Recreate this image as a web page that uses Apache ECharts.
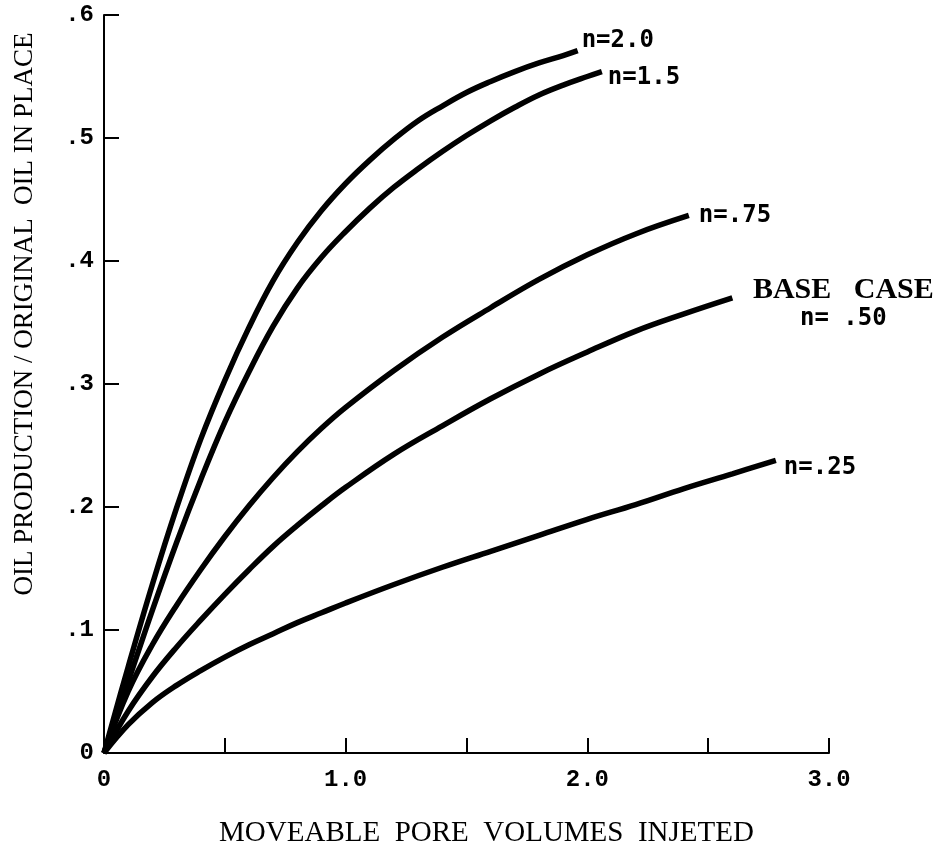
<!DOCTYPE html>
<html>
<head>
<meta charset="utf-8">
<title>Oil production vs pore volumes injected</title>
<script src="https://cdn.jsdelivr.net/npm/echarts@6/dist/echarts.min.js"></script>
<style>
  html, body { margin: 0; padding: 0; background: #fff; }
  #chart { width: 949px; height: 853px; }
</style>
</head>
<body>
<div id="chart"></div>
<script>
// [pore volumes injected, oil production / original oil in place]
const curveN20 = [[0, 0], [0.1, 0.07], [0.2, 0.137], [0.3, 0.199], [0.4, 0.255], [0.5, 0.303], [0.6, 0.346], [0.7, 0.384], [0.8, 0.415], [0.9, 0.441], [1.0, 0.463], [1.1, 0.482], [1.2, 0.499], [1.3, 0.514], [1.4, 0.526], [1.5, 0.537], [1.6, 0.546], [1.7, 0.554], [1.8, 0.561], [1.9, 0.567], [1.96, 0.571]]
const curveN15 = [[0, 0], [0.1, 0.058], [0.2, 0.116], [0.3, 0.171], [0.4, 0.222], [0.5, 0.269], [0.6, 0.31], [0.7, 0.347], [0.8, 0.378], [0.9, 0.403], [1.0, 0.424], [1.1, 0.443], [1.2, 0.46], [1.3, 0.475], [1.4, 0.489], [1.5, 0.502], [1.6, 0.514], [1.7, 0.525], [1.8, 0.535], [1.9, 0.543], [2.0, 0.55], [2.06, 0.554]]
const curveN075 = [[0, 0], [0.1, 0.05], [0.2, 0.088], [0.3, 0.12], [0.4, 0.149], [0.5, 0.176], [0.6, 0.201], [0.7, 0.224], [0.8, 0.245], [0.9, 0.264], [1.0, 0.281], [1.2, 0.311], [1.4, 0.338], [1.6, 0.362], [1.8, 0.385], [2.0, 0.405], [2.2, 0.422], [2.42, 0.437]]
const curveN050 = [[0, 0], [0.1, 0.034], [0.2, 0.062], [0.3, 0.086], [0.4, 0.108], [0.5, 0.129], [0.6, 0.149], [0.7, 0.168], [0.8, 0.185], [0.9, 0.201], [1.0, 0.216], [1.2, 0.243], [1.4, 0.266], [1.6, 0.288], [1.8, 0.308], [2.0, 0.326], [2.2, 0.343], [2.4, 0.357], [2.6, 0.37]]
const curveN025 = [[0, 0], [0.1, 0.023], [0.2, 0.041], [0.3, 0.055], [0.4, 0.067], [0.5, 0.078], [0.6, 0.088], [0.7, 0.097], [0.8, 0.106], [0.9, 0.114], [1.0, 0.122], [1.2, 0.137], [1.4, 0.151], [1.6, 0.164], [1.8, 0.177], [2.0, 0.19], [2.2, 0.202], [2.4, 0.215], [2.6, 0.227], [2.78, 0.238]]

const curveNames = ['n=2.0', 'n=1.5', 'n=.75', 'BASE CASE n=.50', 'n=.25']
const xTickLabels = { 0: '0', 1: '1.0', 2: '2.0', 3: '3.0' }

const chart = echarts.init(document.getElementById('chart'))

const labelFont = {
  fontFamily: 'DejaVu Sans Mono',
  fontWeight: 'bold',
  fontSize: 24,
  color: '#000'
}

function curve (name, data, label) {
  return {
    name: name,
    type: 'line',
    data: data,
    smooth: 0.4,
    symbol: 'none',
    lineStyle: { color: '#000', width: 5.5 },
    endLabel: Object.assign({ show: true, distance: 4 }, labelFont, label)
  }
}

const option = {
  animation: false,
  backgroundColor: '#fff',
  grid: { left: 104, right: 120, top: 15, bottom: 98 },
  xAxis: {
    type: 'value',
    min: 0,
    max: 3,
    interval: 0.5,
    name: 'MOVEABLE  PORE  VOLUMES  INJETED',
    nameLocation: 'middle',
    nameGap: 66,
    nameTextStyle: {
      fontFamily: 'Liberation Serif',
      fontSize: 29,
      color: '#000',
      padding: [0, 0, 0, 40]
    },
    axisLine: { lineStyle: { color: '#000', width: 2 } },
    axisTick: { inside: true, length: 15, lineStyle: { color: '#000', width: 2 } },
    axisLabel: {
      margin: 15,
      fontFamily: 'Liberation Mono',
      fontWeight: 'bold',
      fontSize: 24,
      color: '#000',
      formatter: v => xTickLabels[v] || ''
    },
    splitLine: { show: false }
  },
  yAxis: {
    type: 'value',
    min: 0,
    max: 0.6,
    interval: 0.1,
    name: 'OIL PRODUCTION / ORIGINAL  OIL IN PLACE',
    nameLocation: 'middle',
    nameGap: 66,
    nameTextStyle: {
      fontFamily: 'Liberation Serif',
      fontSize: 27,
      color: '#000',
      padding: [0, 0, 0, 140]
    },
    axisLine: { show: true, lineStyle: { color: '#000', width: 2 } },
    axisTick: { show: true, inside: true, length: 15, lineStyle: { color: '#000', width: 2 } },
    axisLabel: {
      margin: 10,
      fontFamily: 'Liberation Mono',
      fontWeight: 'bold',
      fontSize: 24,
      color: '#000',
      formatter: v => v === 0 ? '0' : v.toFixed(1).replace(/^0/, '')
    },
    splitLine: { show: false }
  },
  series: [
    curve(curveNames[0], curveN20, { formatter: 'n=2.0', offset: [0, -10] }),
    curve(curveNames[1], curveN15, { formatter: 'n=1.5', offset: [2, 6] }),
    curve(curveNames[2], curveN075, { formatter: 'n=.75', offset: [6, 0] }),
    curve(curveNames[3], curveN050, {
      formatter: '{a|BASE   CASE}\n{b|n= .50}',
      align: 'center',
      offset: [107, 6],
      rich: {
        a: { fontFamily: 'Liberation Serif', fontWeight: 'bold', fontSize: 30, lineHeight: 30, color: '#000' },
        b: { fontFamily: 'DejaVu Sans Mono', fontWeight: 'bold', fontSize: 24, lineHeight: 28, color: '#000' }
      }
    }),
    curve(curveNames[4], curveN025, { formatter: 'n=.25', offset: [4, 8] })
  ]
}

chart.setOption(option)
</script>
</body>
</html>
